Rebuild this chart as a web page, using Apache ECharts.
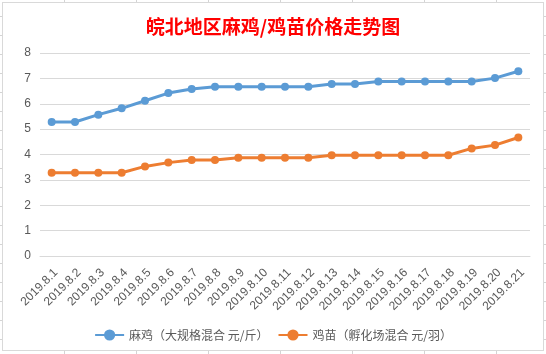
<!DOCTYPE html>
<html>
<head>
<meta charset="UTF-8">
<title>皖北地区麻鸡/鸡苗价格走势图</title>
<script src="https://cdn.jsdelivr.net/npm/echarts@6/dist/echarts.min.js"></script>
<style type="text/css">
	html, body {
		margin: 0;
		padding: 0;
		width: 546px;
		height: 354px;
		overflow: hidden;
		background-color: #fff;
		background-image: linear-gradient(to right, #d4d4d4 1px, transparent 1px),
			linear-gradient(to bottom, #d4d4d4 1px, transparent 1px);
		background-size: 72px 19px;
		background-position: 64px 16px;
	}
	#main {
		position: absolute;
		left: 2px;
		top: 2px;
		width: 540px;
		height: 347px;
		border: 1px solid #d9d9d9;
		background: #fff;
	}
</style>
</head>
<body>
<div id="main"></div>
<script type="text/javascript">
	// 日期
	var days = ['2019.8.1', '2019.8.2', '2019.8.3', '2019.8.4', '2019.8.5', '2019.8.6', '2019.8.7',
		'2019.8.8', '2019.8.9', '2019.8.10', '2019.8.11', '2019.8.12', '2019.8.13', '2019.8.14',
		'2019.8.15', '2019.8.16', '2019.8.17', '2019.8.18', '2019.8.19', '2019.8.20', '2019.8.21']
	// 麻鸡 价格
	var maji = [5.28, 5.28, 5.57, 5.82, 6.12, 6.42, 6.58, 6.67, 6.67, 6.67, 6.67, 6.67, 6.78, 6.78,
		6.88, 6.88, 6.88, 6.88, 6.88, 7.01, 7.28]
	// 鸡苗 价格
	var jimiao = [3.28, 3.28, 3.28, 3.28, 3.53, 3.68, 3.78, 3.78, 3.87, 3.87, 3.87, 3.87, 3.97, 3.97,
		3.97, 3.97, 3.97, 3.97, 4.24, 4.37, 4.67]
	var names = ['麻鸡（大规格混合 元/斤）', '鸡苗（孵化场混合 元/羽）']

	var myChart = echarts.init(document.getElementById('main'))
	var option = {
		animation: false,
		title: {
			text: '皖北地区麻鸡/鸡苗价格走势图',
			left: 'center',
			top: 9,
			textStyle: {
				color: '#ff0000',
				fontSize: 19,
				fontWeight: 'bold',
				fontFamily: 'Noto Sans CJK SC'
			}
		},
		legend: {
			data: names,
			top: 321,
			left: 'center',
			itemWidth: 29,
			itemHeight: 14,
			itemGap: 9,
			textStyle: {
				color: '#595959',
				fontSize: 12,
				fontFamily: 'Noto Sans CJK SC'
			}
		},
		grid: {
			left: 37,
			top: 50,
			right: 13,
			bottom: 94
		},
		xAxis: {
			type: 'category',
			data: days,
			boundaryGap: true,
			axisLine: { lineStyle: { color: '#d9d9d9' } },
			axisTick: { show: false },
			axisLabel: {
				rotate: 45,
				margin: 19,
				padding: [0, -6, 0, 0],
				interval: 0,
				color: '#595959',
				fontSize: 12,
				fontFamily: 'Liberation Sans'
			}
		},
		yAxis: {
			type: 'value',
			min: 0,
			max: 8,
			interval: 1,
			axisLine: { show: false },
			axisTick: { show: false },
			splitLine: { lineStyle: { color: '#d9d9d9' } },
			axisLabel: {
				margin: 9,
				color: '#595959',
				fontSize: 12,
				fontFamily: 'Liberation Sans'
			}
		},
		series: [{
			name: names[0],
			type: 'line',
			data: maji,
			symbol: 'circle',
			symbolSize: 8,
			itemStyle: { color: '#5b9bd5' },
			lineStyle: { width: 3, color: '#5b9bd5' }
		}, {
			name: names[1],
			type: 'line',
			data: jimiao,
			symbol: 'circle',
			symbolSize: 8,
			itemStyle: { color: '#ed7d31' },
			lineStyle: { width: 3, color: '#ed7d31' }
		}]
	}
	myChart.setOption(option)
</script>
</body>
</html>
